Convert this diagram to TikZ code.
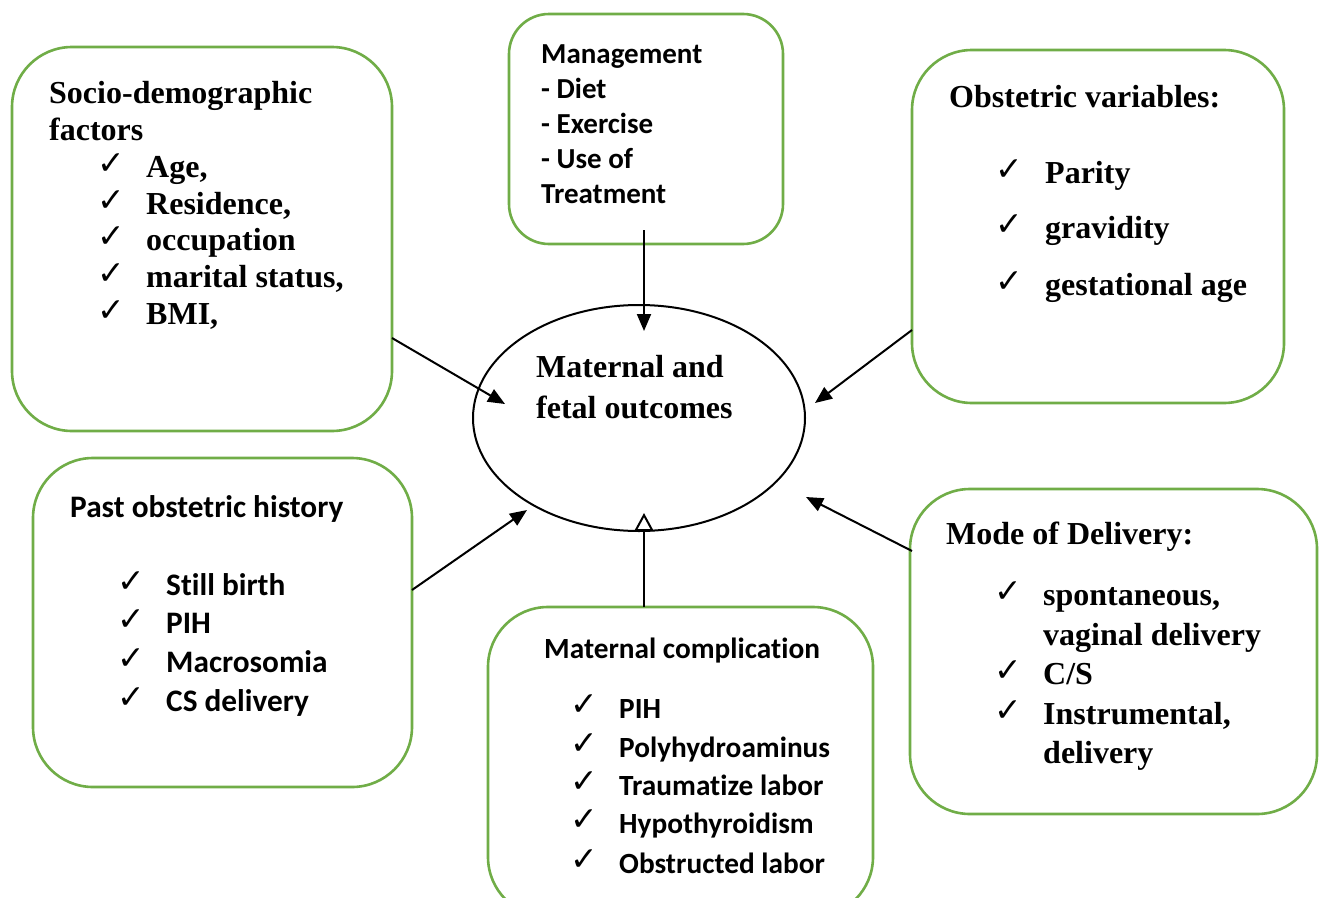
\documentclass[tikz,border=0pt]{standalone}
\usepackage{fontspec}
\setmainfont{Liberation Serif}
\newfontfamily\calib[Ligatures={NoCommon}]{Carlito}
\newfontfamily\dejavu{DejaVu Sans}
\usetikzlibrary{arrows.meta,shapes.geometric}
\definecolor{boxgreen}{RGB}{112,173,71}
\begin{document}
\begin{tikzpicture}[x=1pt,y=-1pt,
  gbox/.style={draw=boxgreen, line width=2.6pt, inner sep=0pt, fill=white},
  tnr/.style={font=\fontsize{32}{37}\selectfont\bfseries, anchor=base west, inner sep=0pt},
  calm/.style={font=\calib\fontsize{29}{35}\selectfont\bfseries, anchor=base west, inner sep=0pt},
  calp/.style={font=\calib\fontsize{31.3}{36}\selectfont\bfseries, anchor=base west, inner sep=0pt},
  calc/.style={font=\calib\fontsize{29.3}{35}\selectfont\bfseries, anchor=base west, inner sep=0pt},
  ckst/.style={font=\dejavu\fontsize{33}{36}\selectfont, anchor=base west, inner sep=0pt},
  arr/.style={line width=2pt, -{Triangle[length=17pt,width=14pt]}},
  oarr/.style={line width=2pt, -{Triangle[open,length=18pt,width=19pt,line width=2pt]}}
]
\useasboundingbox (0,0) rectangle (1320,897);
\clip (0,0) rectangle (1320,897);
\fill[white] (0,0) rectangle (1320,897);

% boxes
\node[gbox, minimum width=380pt, minimum height=384pt, rounded corners=60pt] (socio) at (202,239) {};
\node[gbox, minimum width=274pt, minimum height=230pt, rounded corners=40pt] (mgmt) at (646,129) {};
\node[gbox, minimum width=372pt, minimum height=353pt, rounded corners=60pt] (obst) at (1098,226.5) {};
\node[gbox, minimum width=379pt, minimum height=329pt, rounded corners=60pt] (past) at (222.5,622.5) {};
\node[gbox, minimum width=407pt, minimum height=325pt, rounded corners=60pt] (mode) at (1113.5,651.5) {};
\node[gbox, minimum width=385pt, minimum height=310pt, rounded corners=60pt] (comp) at (680.5,762) {};
\node[draw, line width=2pt, ellipse, minimum width=332pt, minimum height=226pt, inner sep=0pt] (out) at (639,418) {};

% centre text
\node[tnr] (out1) at (536,377) {Maternal and};
\node[tnr] (out2) at (536,418) {fetal outcomes};

% socio-demographic
\node[tnr] (s0) at (49,103) {Socio-demographic};
\node[tnr] (s0b) at (49,140) {factors};
\node[ckst] (s1c) at (97,174) {✓}; \node[tnr] (s1) at (146,177) {Age,};
\node[ckst] (s2c) at (97,211) {✓}; \node[tnr] (s2) at (146,214) {Residence,};
\node[ckst] (s3c) at (97,247.5) {✓}; \node[tnr] (s3) at (146,250.5) {occupation};
\node[ckst] (s4c) at (97,284) {✓}; \node[tnr] (s4) at (146,287) {marital status,};
\node[ckst] (s5c) at (97,321) {✓}; \node[tnr] (s5) at (146,324) {BMI,};

% management
\node[calm] (m0) at (541,63) {Management};
\node[calm] (m1) at (541,98) {- Diet};
\node[calm] (m2) at (541,133.4) {- Exercise};
\node[calm] (m3) at (541,168.6) {- Use of};
\node[calm] (m4) at (541,203.8) {Treatment};

% obstetric variables
\node[tnr] (o0) at (949,107) {Obstetric variables:};
\node[ckst] (o1c) at (995,180) {✓}; \node[tnr] (o1) at (1045,183) {Parity};
\node[ckst] (o2c) at (995,235) {✓}; \node[tnr] (o2) at (1045,238) {gravidity};
\node[ckst] (o3c) at (995,292) {✓}; \node[tnr] (o3) at (1045,295) {gestational age};

% past obstetric history
\node[calp] (p0) at (70,517) {Past obstetric history};
\node[ckst] (p1c) at (117,592) {✓}; \node[calp] (p1) at (166,595) {Still birth};
\node[ckst] (p2c) at (117,630) {✓}; \node[calp] (p2) at (166,633) {PIH};
\node[ckst] (p3c) at (117,669) {✓}; \node[calp] (p3) at (166,672) {Macrosomia};
\node[ckst] (p4c) at (117,708) {✓}; \node[calp] (p4) at (166,711) {CS delivery};

% maternal complication
\node[calc] (c0) at (544,658) {Maternal complication};
\node[ckst] (c1c) at (570,715) {✓}; \node[calc] (c1) at (619,718) {PIH};
\node[ckst] (c2c) at (570,754) {✓}; \node[calc] (c2) at (619,757) {Polyhydroaminus};
\node[ckst] (c3c) at (570,792) {✓}; \node[calc] (c3) at (619,795) {Traumatize labor};
\node[ckst] (c4c) at (570,830) {✓}; \node[calc] (c4) at (619,833) {Hypothyroidism};
\node[ckst] (c5c) at (570,870) {✓}; \node[calc] (c5) at (619,873) {Obstructed labor};

% mode of delivery
\node[tnr] (d0) at (946,544) {Mode of Delivery:};
\node[ckst] (d1c) at (994,602) {✓}; \node[tnr] (d1) at (1043,605) {spontaneous,};
\node[tnr] (d1b) at (1043,645) {vaginal delivery};
\node[ckst] (d2c) at (994,681) {✓}; \node[tnr] (d2) at (1043,684) {C/S};
\node[ckst] (d3c) at (994,721) {✓}; \node[tnr] (d3) at (1043,724) {Instrumental,};
\node[tnr] (d3b) at (1043,763) {delivery};

% connector end points
\coordinate (a1s) at (392,338); \coordinate (a1e) at (505,404);
\coordinate (a2s) at (644,230); \coordinate (a2e) at (644,331);
\coordinate (a3s) at (912,330); \coordinate (a3e) at (815,403);
\coordinate (a4s) at (412,590); \coordinate (a4e) at (527,510);
\coordinate (a5s) at (644,607); \coordinate (a5e) at (644,513);
\coordinate (a6s) at (912,551); \coordinate (a6e) at (806,497);

\draw[arr] (a1s) -- (a1e);
\draw[arr] (a2s) -- (a2e);
\draw[arr] (a3s) -- (a3e);
\draw[arr] (a4s) -- (a4e);
\draw[oarr] (a5s) -- (a5e);
\draw[arr] (a6s) -- (a6e);
\end{tikzpicture}
\end{document}
